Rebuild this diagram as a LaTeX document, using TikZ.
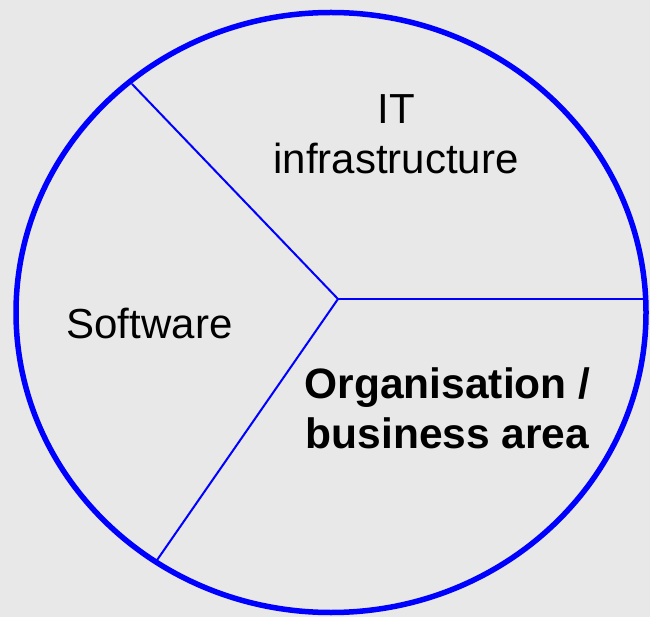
\documentclass[tikz,border=0pt]{standalone}
\usepackage{fontspec}
\setmainfont{Liberation Sans}
\usetikzlibrary{positioning}
\definecolor{paneback}{RGB}{232,232,232}
\definecolor{rimblue}{RGB}{0,0,255}

\begin{document}
\begin{tikzpicture}[
    x=1pt, y=-1pt,
    rim/.style={
        draw=rimblue,
        line width=5.5pt,
    },
    spoke/.style={
        draw=rimblue,
        line width=2pt,
        line cap=round,
    },
    sector/.style={
        inner sep=0pt,
        align=center,
        font=\fontsize{42}{50}\selectfont,
    }
]
    % Background
    \fill[paneback] (0,0) rectangle (650,617);
    \useasboundingbox (0,0) rectangle (650,617);

    % Outer ring
    \draw[rim] (331,312.5) ellipse [x radius=315pt, y radius=300pt];

    % Spokes
    \coordinate (hub) at (338,299);
    \coordinate (spokeup) at (132,84);
    \coordinate (spokedown) at (155,563);
    \coordinate (spokeright) at (646,299);
    \draw[spoke] (hub) -- (spokeup);
    \draw[spoke] (hub) -- (spokedown);
    \draw[spoke] (hub) -- (spokeright);

    % Sector labels
    \node[sector] (infra) at (396,134) {IT\\infrastructure};
    \node[sector, anchor=base] (software) at (149.5,338) {Software};
    \node[sector, font=\fontsize{42.5}{50}\selectfont\bfseries] (orga) at (447.5,408.5) {Organisation /\\business area};
\end{tikzpicture}
\end{document}
